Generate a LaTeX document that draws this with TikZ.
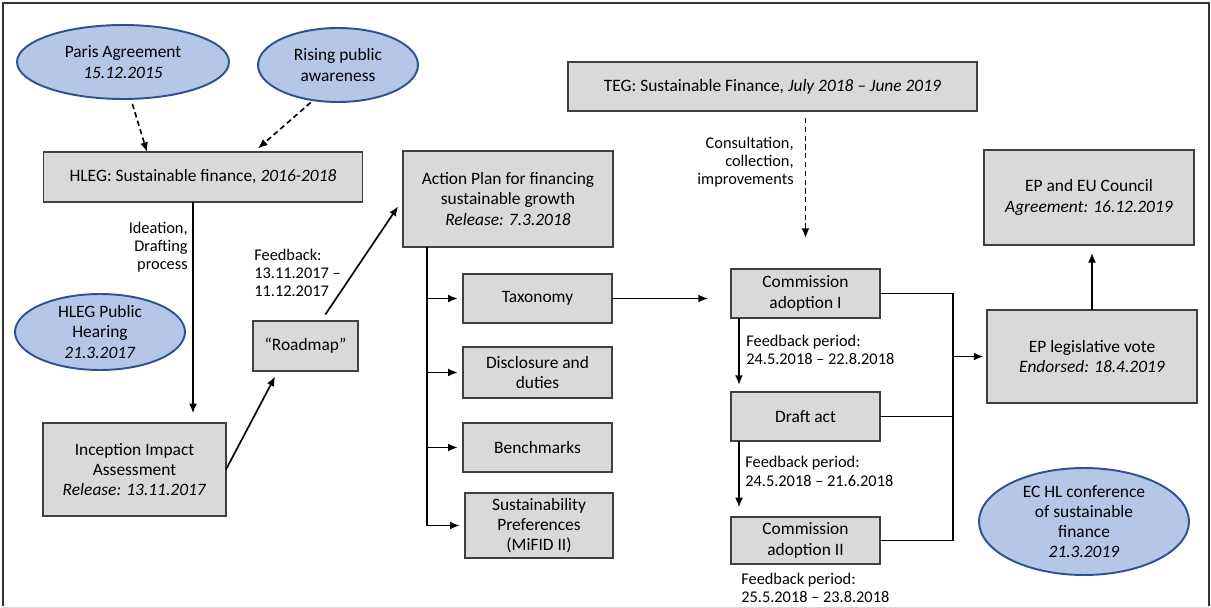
\documentclass[tikz,border=0pt]{standalone}
\usepackage{fontspec}
\setmainfont{Carlito}
\usetikzlibrary{arrows.meta,positioning,shapes.geometric}
\definecolor{boxfill}{HTML}{D9D9D9}
\definecolor{boxline}{HTML}{404040}
\definecolor{bubblefill}{HTML}{B4C7E7}
\definecolor{bubbleline}{HTML}{2F528F}

\begin{document}
\begin{tikzpicture}[x=0.02cm, y=-0.02cm, >={Latex[length=5.5pt,width=4.5pt]},
    font=\fontsize{9.9}{11.5}\selectfont,
    box/.style={draw=boxline, fill=boxfill, line width=1.1pt, align=center,
      inner sep=2pt, outer sep=0pt},
    bubble/.style={ellipse, draw=bubbleline, fill=bubblefill, line width=1.1pt,
      align=center, inner sep=0pt, outer sep=0pt},
    note/.style={font=\fontsize{9.3}{10.4}\selectfont, inner sep=0pt},
    link/.style={line width=0.95pt}, arrow/.style={->, line width=0.95pt},
    dasharrow/.style={->, line width=0.95pt, dash pattern=on 3pt off 2pt} ]

    \useasboundingbox (0,0) rectangle (1211,608);
    \draw[line width=1pt, black!80] (3,606) -- (3,3) -- (1209,3) -- (1209,606);
    \draw[black!15] (3,607) -- (1209,607);

    % HLEG column
    \node[bubble, minimum width=4.24cm, minimum height=1.48cm] (paris) at
    (123,62) {Paris Agreement\\\textit{15.12.2015}}; \node[bubble, minimum
    width=3.2cm, minimum height=1.48cm] (rising) at (338,65) {Rising
    public\\awareness}; \node[box, minimum width=6.38cm, minimum height=1cm]
    (hleg) at (203,177) {HLEG: Sustainable finance, \textit{2016-2018}};
    \node[bubble, minimum width=3.4cm, minimum height=1.52cm] (hearing) at
    (100,332) {HLEG Public\\Hearing\\\textit{21.3.2017}}; \node[box, minimum
    width=3.66cm, minimum height=1.86cm] (inception) at (134.5,469.5)
    {Inception Impact\\Assessment\\\textit{Release: 13.11.2017}}; \node[box,
    minimum width=2.1cm, minimum height=1cm] (roadmap) at (305.5,346)
    {“Roadmap”};

    \node[note, anchor=east, align=right] (ideation) at (188,247)
    {Ideation,\\Drafting\\process}; \node[note, anchor=west, align=left]
    (feedback) at (254,273) {Feedback:\\13.11.2017 –\\11.12.2017};

    \draw[dasharrow, shorten <=3pt] (paris.-78) -- ([xshift=-1.12cm]hleg.north);
    \draw[dasharrow, shorten <=2pt, shorten >=3pt] (rising.-125) --
    ([xshift=1.02cm]hleg.north); \draw[arrow, shorten >=5.5pt]
    ([xshift=-0.2cm]hleg.south) -- ([xshift=-0.2cm]hleg.south |-
    inception.north); \draw[arrow, shorten >=3.5pt] (inception.east) --
    ([xshift=-0.55cm]roadmap.south);

    % Action plan
    \node[box, minimum width=4.2cm, minimum height=1.92cm] (action) at
    (508,199) {Action Plan for financing\\sustainable growth\\\textit{Release:
    7.3.2018}}; \node[box, minimum width=2.98cm, minimum height=0.98cm]
    (taxonomy) at (537.5,298.5) {Taxonomy}; \node[box, minimum width=2.98cm,
    minimum height=1.02cm] (disclosure) at (537.5,372.5) {Disclosure
    and\\duties}; \node[box, minimum width=2.98cm, minimum height=0.98cm]
    (benchmarks) at (537.5,447.5) {Benchmarks}; \node[box, minimum
    width=2.96cm, minimum height=1.3cm] (mifid) at (539,525.5)
    {Sustainability\\Preferences\\(MiFID II)};

    \draw[arrow, shorten <=4.5pt, shorten >=5pt] ([xshift=0.31cm]roadmap.north)
    -- (action.west); \coordinate (trunk) at ([xshift=-1.62cm]action.south);
    \draw[link] (trunk) -- (trunk |- mifid.west); \foreach \b in
    {taxonomy,disclosure,benchmarks,mifid} \draw[arrow, shorten >=3pt] (trunk
    |- \b.west) -- (\b.west);

    % Delegated acts
    \node[box, minimum width=8.18cm, minimum height=0.98cm] (teg) at
    (772.5,86.5) {TEG: Sustainable Finance, \textit{July 2018 – June 2019}};
    \node[box, minimum width=2.98cm, minimum height=0.98cm] (comI) at
    (805.5,293.5) {Commission\\adoption I}; \node[box, minimum width=2.98cm,
    minimum height=0.98cm] (draft) at (805.5,416.5) {Draft act}; \node[box,
    minimum width=2.98cm, minimum height=0.94cm] (comII) at (805.5,540.5)
    {Commission\\adoption II};

    \node[note, anchor=east, align=right] (consult) at (794,162)
    {Consultation,\\collection,\\improvements}; \node[note, anchor=west,
    align=left] (fbI) at (746,350) {Feedback period:\\24.5.2018 – 22.8.2018};
    \node[note, anchor=west, align=left] (fbII) at (745,471.5) {Feedback
    period:\\24.5.2018 – 21.6.2018}; \node[note, anchor=west, align=left]
    (fbIII) at (741,588) {Feedback period:\\25.5.2018 – 23.8.2018};

    \draw[arrow, shorten >=0.46cm] (taxonomy.east) -- (taxonomy.east -|
    comI.west); \draw[dasharrow, shorten <=4pt, shorten >=0.62cm] (teg.south
    -| comI.north) -- (comI.north); \draw[arrow, shorten >=4pt]
    ([xshift=-1.33cm]comI.south) -- ([xshift=-1.33cm]comI.south |-
    draft.north); \draw[arrow, shorten >=5.5pt] ([xshift=-1.33cm]draft.south)
    -- ([xshift=-1.33cm]draft.south |- comII.north);

    % Parliament and council
    \node[box, minimum width=4.2cm, minimum height=1.86cm] (vote) at
    (1092,356.5) {EP legislative vote\\\textit{Endorsed: 18.4.2019}};
    \node[box, minimum width=4.2cm, minimum height=1.9cm] (council) at
    (1089,197.5) {EP and EU Council\\\textit{Agreement: 16.12.2019}};
    \node[bubble, minimum width=4.2cm, minimum height=2.14cm] (conference) at
    (1084,521.5) {EC HL conference\\of sustainable\\finance\\\textit{21.3.2019}};

    \coordinate (bus) at ([xshift=1.46cm]comI.east); \draw[link] (comI.east)
    -- (bus) |- (comII.east); \draw[link] (draft.east) -- (draft.east -| bus);
    \draw[arrow, shorten >=2pt] (bus |- vote.west) -- (vote.west);
    \draw[arrow, shorten >=4.5pt] (vote.north) -- (vote.north |-
    council.south);

  \end{tikzpicture}
\end{document}
